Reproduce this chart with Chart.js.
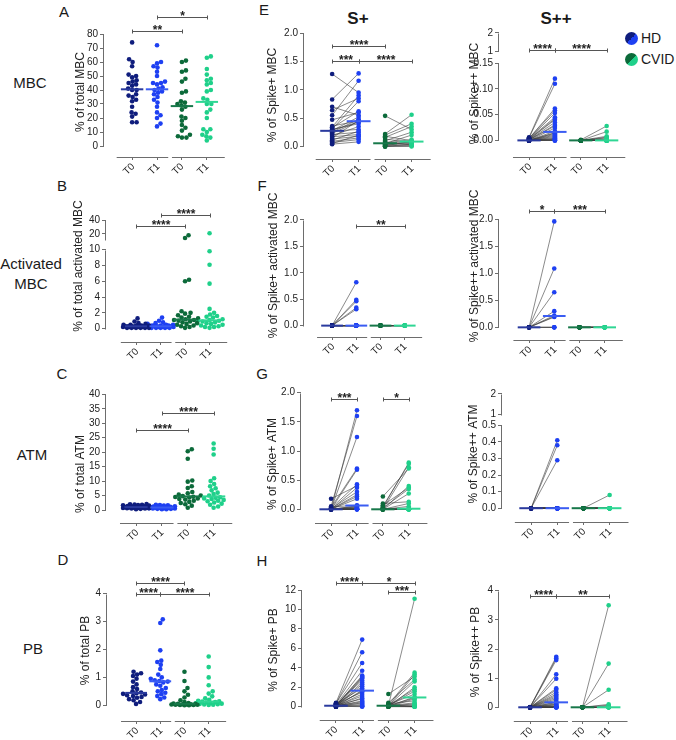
<!DOCTYPE html>
<html>
<head>
<meta charset="utf-8">
<title>Spike-specific B cell subsets</title>
<script src="https://cdn.jsdelivr.net/npm/chart.js@4.4.1/dist/chart.umd.min.js"></script>
<style>
  html, body { margin: 0; padding: 0; background: #fff; }
  #fig { position: relative; width: 676px; height: 740px; overflow: hidden; font-family: "Liberation Sans", Arial, sans-serif; color: #1a1a1a; }
  #fig canvas { position: absolute; }
  .t { position: absolute; transform: translate(-50%, -50%); white-space: nowrap; line-height: 1; }
  .letter { font-size: 15px; }
  .row { font-size: 15px; text-align: center; line-height: 20px; }
  .head { font-size: 17px; font-weight: bold; }
  .leg { position: absolute; left: 625px; height: 14px; font-size: 14px; line-height: 14px; display: flex; align-items: center; }
  .leg i { display: inline-block; width: 13px; height: 13px; border-radius: 50%; margin-right: 3px; }
  .xt { position: absolute; font-size: 10px; line-height: 10px; color: #222; white-space: nowrap;
        transform-origin: 50% 50%; transform: translate(-50%, -50%) rotate(-45deg); }
</style>
</head>
<body>
<div id="fig">
  <div class="t letter" style="left:64px;top:11px">A</div>
  <div class="t letter" style="left:62px;top:185px">B</div>
  <div class="t letter" style="left:62px;top:373px">C</div>
  <div class="t letter" style="left:63px;top:559px">D</div>
  <div class="t letter" style="left:264px;top:9px">E</div>
  <div class="t letter" style="left:262px;top:185px">F</div>
  <div class="t letter" style="left:262px;top:373px">G</div>
  <div class="t letter" style="left:262px;top:560px">H</div>

  <div class="t row" style="left:30px;top:83px">MBC</div>
  <div class="t row" style="left:31px;top:274px">Activated<br>MBC</div>
  <div class="t row" style="left:32px;top:455px">ATM</div>
  <div class="t row" style="left:33px;top:649px">PB</div>

  <div class="t head" style="left:358px;top:18px">S+</div>
  <div class="t head" style="left:556px;top:18px">S++</div>

  <div class="leg" style="top:31px"><i style="background:linear-gradient(135deg,#0f1d7d 50%,#1e40f2 50%)"></i>HD</div>
  <div class="leg" style="top:52px"><i style="background:linear-gradient(135deg,#0c6a3a 50%,#1fd08a 50%)"></i>CVID</div>
</div>

<script>
// ---- data ----
const TIME_LABELS = ['T0', 'T1', 'T0', 'T1'];
const GROUP_NAMES = ['HD T0', 'HD T1', 'CVID T0', 'CVID T1'];

// A - % of total MBC
const mbcHdT0 = [74, 62, 60, 57, 51, 50, 49, 47, 46, 45, 44, 43, 41, 40, 40, 37, 36, 35, 33, 32, 28, 24, 23, 21, 17, 17];
const mbcHdT1 = [72, 60, 59, 57, 56, 53, 50, 46, 45, 45, 44, 42, 41, 40, 39, 38, 37, 35, 33, 31, 28, 24, 22, 20, 16, 14];
const mbcCvT0 = [61, 60, 54, 53, 48, 46, 39, 38, 32, 31, 30, 29, 28, 26, 21, 20, 18, 15, 13, 11, 8, 7, 6, 6];
const mbcCvT1 = [64, 63, 55, 51, 48, 47, 45, 44, 40, 39, 34, 33, 30, 30, 26, 24, 20, 12, 12, 10, 8, 7, 6, 4];

// B - % of total activated MBC
const actHdT0 = [1.3, 0.9, 0.7, 0.6, 0.5, 0.5, 0.4, 0.4, 0.4, 0.3, 0.3, 0.3, 0.3, 0.3, 0.3, 0.2, 0.2, 0.2, 0.2, 0.2, 0.1, 0.1, 0.1, 0.1, 0.1, 0.1];
const actHdT1 = [1.4, 1.0, 0.8, 0.7, 0.6, 0.5, 0.5, 0.4, 0.4, 0.4, 0.3, 0.3, 0.3, 0.3, 0.3, 0.2, 0.2, 0.2, 0.2, 0.2, 0.1, 0.1, 0.1, 0.1, 0.1];
const actCvT0 = [18, 14, 6.2, 6.0, 2.2, 2.0, 1.9, 1.7, 1.5, 1.4, 1.3, 1.2, 1.1, 1.1, 1.0, 0.9, 0.8, 0.7, 0.6, 0.5, 0.4, 0.3, 0.2, 0.1];
const actCvT1 = [21, 9.8, 8.1, 5.7, 2.5, 2.0, 1.8, 1.6, 1.5, 1.4, 1.2, 1.1, 1.0, 1.0, 0.9, 0.8, 0.7, 0.6, 0.5, 0.4, 0.3, 0.2, 0.2, 0.1];

// C - % of total ATM
const atmHdT0 = [2.1, 2.0, 1.9, 1.8, 1.7, 1.6, 1.5, 1.4, 1.3, 1.2, 1.1, 1.0, 1.0, 0.9, 0.9, 0.8, 0.8, 0.7, 0.7, 0.6, 0.6, 0.5, 0.5, 0.4, 0.3];
const atmHdT1 = [1.8, 1.7, 1.6, 1.5, 1.4, 1.3, 1.2, 1.1, 1.0, 1.0, 0.9, 0.9, 0.8, 0.8, 0.7, 0.7, 0.6, 0.6, 0.5, 0.5, 0.4, 0.4, 0.3, 0.3];
const atmCvT0 = [21, 20.3, 17.7, 10.2, 9.8, 8.2, 7.6, 6.2, 5.8, 5.3, 5.0, 4.8, 4.6, 4.5, 4.3, 4.0, 3.8, 3.6, 3.2, 2.8, 2.4, 2.0, 1.5, 0.8];
const atmCvT1 = [23, 21.2, 19.2, 11, 10, 9, 8.2, 7.5, 6.8, 6, 5.5, 5, 4.4, 4.2, 4.0, 3.8, 3.5, 3.2, 3.0, 2.6, 2.2, 1.8, 1.2, 0.8];

// D - % of total PB
const pbHdT0 = [1.2, 1.15, 1.1, 1.05, 0.95, 0.85, 0.75, 0.65, 0.58, 0.5, 0.46, 0.43, 0.41, 0.39, 0.36, 0.33, 0.3, 0.27, 0.22, 0.18, 0.12, 0.05];
const pbHdT1 = [3.08, 2.95, 1.97, 1.6, 1.55, 1.45, 1.3, 1.1, 1.0, 0.95, 0.9, 0.87, 0.85, 0.82, 0.75, 0.7, 0.62, 0.55, 0.5, 0.45, 0.4, 0.33, 0.28, 0.22];
const pbCvT0 = [1.2, 0.87, 0.62, 0.5, 0.38, 0.28, 0.18, 0.12, 0.08, 0.06, 0.05, 0.05, 0.04, 0.04, 0.03, 0.03, 0.02, 0.02, 0.01, 0.01, 0, 0];
const pbCvT1 = [1.75, 1.37, 1.0, 0.72, 0.5, 0.42, 0.32, 0.25, 0.2, 0.16, 0.14, 0.13, 0.12, 0.1, 0.08, 0.07, 0.06, 0.05, 0.04, 0.03, 0.02, 0.01];

// E - Spike+ / Spike++ MBC (paired T0 -> T1)
const sMbcHdT0 = [1.28, 0.83, 0.70, 0.64, 0.55, 0.47, 0.36, 0.34, 0.33, 0.31, 0.30, 0.29, 0.28, 0.27, 0.25, 0.23, 0.21, 0.19, 0.17, 0.15, 0.13, 0.11, 0.09, 0.07, 0.05, 0.04];
const sMbcHdT1 = [0.95, 1.29, 0.55, 0.85, 1.16, 0.60, 0.45, 0.90, 0.62, 0.80, 0.40, 0.43, 0.52, 0.30, 0.48, 0.44, 0.25, 0.35, 0.21, 0.46, 0.18, 0.27, 0.15, 0.12, 0.20, 0.08];
const sMbcCvT0 = [0.54, 0.22, 0.20, 0.18, 0.16, 0.13, 0.10, 0.08, 0.06, 0.05, 0.05, 0.04, 0.03, 0.02, 0.01, 0, 0, 0];
const sMbcCvT1 = [0.30, 0.56, 0.40, 0.10, 0.35, 0.07, 0.25, 0.05, 0.12, 0.03, 0.20, 0.06, 0.08, 0.02, 0.09, 0.01, 0, 0.04];

const ssMbcHdT0 = [0.006, 0.005, 0.004, 0.004, 0.003, 0.003, 0.002, 0.002, 0.001, 0.001, 0.001, 0, 0, 0, 0, 0, 0, 0, 0, 0, 0, 0, 0, 0, 0, 0];
const ssMbcHdT1 = [0.120, 0.110, 0.062, 0.058, 0.053, 0.045, 0.042, 0.040, 0.035, 0.030, 0.028, 0.024, 0.018, 0.015, 0.014, 0.012, 0.010, 0.008, 0.006, 0.004, 0.003, 0.002, 0.001, 0, 0, 0];
const ssMbcCvT0 = [0.001, 0, 0, 0, 0, 0, 0, 0, 0, 0, 0, 0, 0, 0, 0, 0, 0, 0];
const ssMbcCvT1 = [0.028, 0.017, 0.008, 0.006, 0.005, 0.003, 0, 0, 0, 0, 0, 0, 0, 0, 0, 0, 0, 0];

// F - Spike+ / Spike++ activated MBC
const saHdT0 = [0, 0, 0, 0, 0, 0, 0, 0, 0, 0, 0, 0, 0, 0, 0, 0, 0, 0, 0, 0];
const saHdT1 = [0.82, 0.49, 0.46, 0.34, 0.31, 0, 0, 0, 0, 0, 0, 0, 0, 0, 0, 0, 0, 0, 0, 0];
const saCvT0 = [0, 0, 0, 0, 0, 0, 0, 0, 0, 0, 0, 0];
const saCvT1 = [0, 0, 0, 0, 0, 0, 0, 0, 0, 0, 0, 0];

const ssaHdT0 = [0, 0, 0, 0, 0, 0, 0, 0, 0, 0];
const ssaHdT1 = [1.96, 1.09, 0.65, 0.30, 0.22, 0.20, 0.19, 0, 0, 0];
const ssaCvT0 = [0, 0, 0, 0, 0, 0, 0, 0, 0, 0];
const ssaCvT1 = [0, 0, 0, 0, 0, 0, 0, 0, 0, 0];

// G - Spike+ / Spike++ ATM
const sAtmHdT0 = [0, 0.05, 0, 0.03, 0, 0.02, 0.18, 0, 0.01, 0, 0, 0, 0.04, 0, 0, 0, 0, 0, 0, 0, 0, 0, 0, 0, 0, 0];
const sAtmHdT1 = [1.70, 1.60, 1.24, 0.70, 0.68, 0.43, 0.40, 0.37, 0.30, 0.25, 0.22, 0.18, 0.07, 0.06, 0.05, 0.04, 0.03, 0.02, 0.01, 0.01, 0, 0, 0, 0, 0, 0];
const sAtmCvT0 = [0.03, 0.05, 0, 0.22, 0, 0.07, 0.02, 0, 0.10, 0, 0, 0, 0, 0, 0, 0, 0, 0, 0, 0, 0, 0, 0, 0];
const sAtmCvT1 = [0.80, 0.78, 0.72, 0.70, 0.40, 0.37, 0.35, 0.27, 0.13, 0.10, 0.05, 0.02, 0, 0, 0, 0, 0, 0, 0, 0, 0, 0, 0, 0];

const ssAtmHdT0 = [0, 0, 0, 0, 0, 0, 0, 0, 0, 0, 0, 0, 0, 0, 0, 0, 0, 0, 0, 0];
const ssAtmHdT1 = [0.41, 0.38, 0.29, 0, 0, 0, 0, 0, 0, 0, 0, 0, 0, 0, 0, 0, 0, 0, 0, 0];
const ssAtmCvT0 = [0, 0, 0, 0, 0, 0, 0, 0, 0, 0, 0, 0, 0, 0, 0];
const ssAtmCvT1 = [0.08, 0, 0, 0, 0, 0, 0, 0, 0, 0, 0, 0, 0, 0, 0];

// H - Spike+ / Spike++ PB
const sPbHdT0 = [0.40, 0.30, 0.35, 0.20, 0.10, 0.15, 0.05, 0.10, 0.20, 0, 0.10, 0.05, 0.30, 0, 0.10, 0.25, 0.05, 0.10, 0, 0.15, 0.05, 0.10, 0, 0.20, 0.05, 0.10, 0, 0.05];
const sPbHdT1 = [6.9, 5.6, 4.5, 3.7, 3.2, 3.1, 3.0, 2.9, 2.7, 2.5, 2.3, 2.1, 1.9, 1.7, 1.6, 1.5, 1.3, 1.1, 0.9, 0.8, 0.6, 0.5, 0.4, 0.3, 0.2, 0.1, 0.05, 0];
const sPbCvT0 = [0.10, 0.20, 0.05, 1.30, 0.40, 0.10, 0, 0.15, 0.10, 0.20, 0.05, 0.10, 0, 0.30, 0.10, 0.05, 0.10, 0, 0.20, 0.10, 0, 0.05];
const sPbCvT1 = [11.1, 3.5, 3.3, 3.1, 2.8, 2.6, 2.0, 1.8, 1.6, 1.3, 1.0, 0.9, 0.8, 0.6, 0.4, 0.3, 0.2, 0.1, 0.05, 0, 0, 0];

const ssPbHdT0 = [0.01, 0, 0, 0, 0, 0, 0, 0, 0, 0, 0, 0, 0, 0, 0, 0, 0, 0, 0, 0, 0, 0, 0, 0, 0, 0, 0, 0];
const ssPbHdT1 = [1.73, 1.68, 1.62, 1.13, 0.98, 0.65, 0.60, 0.52, 0.45, 0.40, 0.35, 0.30, 0.25, 0.18, 0.16, 0.12, 0.10, 0.08, 0.05, 0.03, 0.02, 0, 0, 0, 0, 0, 0, 0];
const ssPbCvT0 = [0, 0, 0, 0, 0, 0, 0, 0, 0, 0, 0, 0];
const ssPbCvT1 = [3.5, 1.5, 0.6, 0.1, 0.07, 0, 0, 0, 0, 0, 0, 0];

// y ticks + labels
const ticksA = [0, 10, 20, 30, 40, 50, 60, 70, 80];
const labelsA = ['0', '10', '20', '30', '40', '50', '60', '70', '80'];
const ticksB = [0, 2, 4, 6, 8, 10, 20, 40];
const labelsB = ['0', '2', '4', '6', '8', '10', '20', '40'];
const ticksC = [0, 5, 10, 15, 20, 25, 30, 35, 40];
const labelsC = ['0', '5', '10', '15', '20', '25', '30', '35', '40'];
const ticks4 = [0, 1, 2, 3, 4];
const labels4 = ['0', '1', '2', '3', '4'];
const ticks2 = [0, 0.5, 1, 1.5, 2];
const labels2 = ['0.0', '0.5', '1.0', '1.5', '2.0'];
const ticksESS = [0, 0.05, 0.10, 0.15, 1, 2];
const labelsESS = ['0.00', '0.05', '0.10', '0.15', '1', '2'];
const ticksGSS = [0, 0.1, 0.2, 0.3, 0.4, 0.5, 1, 2];
const labelsGSS = ['0.0', '0.1', '0.2', '0.3', '0.4', '0.5', '1', '2'];
const ticksH = [0, 2, 4, 6, 8, 10, 12];
const labelsH = ['0', '2', '4', '6', '8', '10', '12'];

// significance brackets: [from group, to group, value, label]
const sigA = [[0, 2, 82, '**'], [1, 3, 92, '*']];
const sigB = [[0, 2, 31, '****'], [1, 3, 47, '****']];
const sigC = [[0, 2, 27.7, '****'], [1, 3, 33.7, '****']];
const sigD = [[0, 2, 4.38, '****'], [0, 1, 4.0, '****'], [1, 3, 4.0, '****']];
const sigES = [[0, 2, 1.77, '****'], [0, 1, 1.51, '***'], [1, 3, 1.51, '****']];
const sigESS = [[0, 1, 1.1, '****'], [1, 3, 1.1, '****']];
const sigFS = [[1, 3, 1.88, '**']];
const sigFSS = [[0, 1, 2.15, '*'], [1, 3, 2.15, '***']];
const sigGS = [[0, 1, 1.885, '***'], [2, 3, 1.885, '*']];
const sigGSS = [];
const sigHS = [[0, 1, 12.7, '****'], [1, 3, 12.7, '*'], [2, 3, 11.8, '***']];
const sigHSS = [[0, 1, 3.82, '****'], [1, 3, 3.82, '**']];

// ---- style ----
const COLORS = ['#0f1d7d', '#1e40f2', '#0c6a3a', '#1fd08a'];
const MEDIAN_COLORS = ['#2a3a9e', '#3a5cf2', '#17784a', '#2fd694'];
const AXIS = '#6d6d6d';
const INK = '#222';
const PAIR = 'rgba(60,60,60,0.75)';
const FONT = '"Liberation Sans", Arial, sans-serif';
const X_H = 30;
const X_SEGS = [[-0.62, 1.45], [1.6, 3.72]];

Chart.defaults.font.family = FONT;

function median(a) {
  const s = [...a].sort((p, q) => p - q);
  const n = s.length;
  return n % 2 ? s[(n - 1) / 2] : (s[n / 2 - 1] + s[n / 2]) / 2;
}

// broken axis: values above lowTop are squeezed into a short upper segment
function makeBreak(b) {
  if (!b) return v => v;
  return v => v <= b.lowTop ? v : b.highStart + (v - b.highBottom) * b.factor;
}

function decor(P, tf) {
  return {
    id: 'decor',
    beforeDatasetsDraw(chart) {
      const { ctx, chartArea: ca, scales: { x, y } } = chart;
      ctx.save();
      ctx.strokeStyle = AXIS;
      ctx.lineWidth = 1;
      const ax = Math.round(ca.left) - 0.5;
      P.segs.forEach(([a, b]) => {
        ctx.beginPath();
        ctx.moveTo(ax, Math.round(y.getPixelForValue(tf(a))) + 0.5);
        ctx.lineTo(ax, Math.round(y.getPixelForValue(tf(b))) + 0.5);
        ctx.stroke();
      });
      const by = Math.round(ca.bottom) + 0.5;
      X_SEGS.forEach(([a, b]) => {
        ctx.beginPath();
        ctx.moveTo(x.getPixelForValue(a), by);
        ctx.lineTo(x.getPixelForValue(b), by);
        ctx.stroke();
      });
      ctx.restore();
    },
    afterDraw(chart) {
      const { ctx, scales: { x, y } } = chart;
      ctx.save();
      ctx.strokeStyle = '#555';
      ctx.fillStyle = INK;
      ctx.lineWidth = 1;
      ctx.font = 'bold 12px ' + FONT;
      ctx.textAlign = 'center';
      ctx.textBaseline = 'alphabetic';
      P.sig.forEach(([a, b, v, txt]) => {
        const x1 = Math.round(x.getPixelForValue(a)) + 0.5;
        const x2 = Math.round(x.getPixelForValue(b)) + 0.5;
        const yy = Math.round(y.getPixelForValue(tf(v))) + 0.5;
        ctx.beginPath();
        ctx.moveTo(x1, yy); ctx.lineTo(x2, yy);
        ctx.moveTo(x1, yy - 2); ctx.lineTo(x1, yy + 2);
        ctx.moveTo(x2, yy - 2); ctx.lineTo(x2, yy + 2);
        ctx.stroke();
        ctx.fillText(txt, (x1 + x2) / 2, yy + 2.5);
      });
      ctx.restore();
    }
  };
}

// spread points of one group sideways so they do not sit on top of each other
function swarm(chart, di, cat, cap) {
  const xs = chart.scales.x, ys = chart.scales.y;
  const unit = xs.getPixelForValue(1) - xs.getPixelForValue(0);
  const pts = chart.data.datasets[di].data;
  const order = pts.map((p, i) => ({ i, py: ys.getPixelForValue(p.y) })).sort((a, b) => b.py - a.py);
  const D2 = 4.2 * 4.2;
  const cands = [0];
  for (let s = 0.5; s <= cap; s += 0.5) cands.push(s, -s);
  const placed = [];
  order.forEach(p => {
    let best = 0, bestGap = -1;
    for (const c of cands) {
      let gap = Infinity;
      for (const q of placed) {
        const dx = q.px - c, dy = q.py - p.py;
        gap = Math.min(gap, dx * dx + dy * dy);
      }
      if (gap >= D2) { best = c; break; }
      if (gap > bestGap) { bestGap = gap; best = c; }
    }
    placed.push({ px: best, py: p.py });
    pts[p.i].x = cat + best / unit;
  });
}

function buildPanel(P) {
  const L = P.layout;
  const tf = makeBreak(P.brk);
  const fig = document.getElementById('fig');
  const W = Math.round(L.titleD + 7.2);
  const axisX = Math.round(L.axisX);
  const left = axisX - W;
  const top = Math.round(L.topY);          // canvas top (room for brackets)
  const chartTop = Math.round(L.chartTop); // top of the plotting area
  const width = Math.round(L.rightX) - left;
  const bottom = Math.round(L.lineY);
  const height = bottom + X_H - top;

  const cv = document.createElement('canvas');
  cv.width = width;
  cv.height = height;
  cv.style.left = left + 'px';
  cv.style.top = top + 'px';
  fig.appendChild(cv);

  const [v0, p0, v1, p1] = L.cal;
  const t0 = tf(v0);
  const ppt = (p0 - p1) / (tf(v1) - t0);
  const yMax = t0 + (p0 - chartTop) / ppt;
  const yMin = t0 - (bottom - p0) / ppt;
  const xMin = (axisX - L.cat0X) / L.catStep;
  const xMax = xMin + (left + width - axisX) / L.catStep;

  const datasets = [];
  P.groups.forEach((arr, g) => {
    datasets.push({
      label: GROUP_NAMES[g],
      data: arr.map(v => ({ x: g, y: tf(v) })),
      backgroundColor: COLORS[g],
      pointRadius: 2.3,
      borderWidth: 0,
      order: 1
    });
  });
  if (P.paired) {
    [[0, 1], [2, 3]].forEach(([a, b]) => {
      const data = [];
      P.groups[a].forEach((v, i) => {
        data.push({ x: a, y: tf(v) }, { x: b, y: tf(P.groups[b][i]) }, { x: (a + b) / 2, y: null });
      });
      datasets.push({ data, showLine: true, spanGaps: false, borderColor: PAIR, borderWidth: 0.8, pointRadius: 0, order: 2 });
    });
  }
  P.groups.forEach((arr, g) => {
    const m = tf(median(arr));
    datasets.push({
      data: [{ x: g - 0.45, y: m }, { x: g + 0.45, y: m }],
      showLine: true, borderColor: MEDIAN_COLORS[g], borderWidth: 2, pointRadius: 0, order: 0
    });
  });

  const chart = new Chart(cv, {
    type: 'scatter',
    data: { datasets },
    options: {
      responsive: false,
      animation: false,
      devicePixelRatio: 1,
      events: [],
      layout: { padding: { top: chartTop - top, left: 0, right: 0, bottom: 0 } },
      plugins: { legend: { display: false }, tooltip: { enabled: false } },
      scales: {
        x: {
          type: 'linear', min: xMin, max: xMax,
          afterBuildTicks: s => { s.ticks = TIME_LABELS.map((_, i) => ({ value: i })); },
          afterFit: s => { s.height = X_H; s.paddingLeft = 0; s.paddingRight = 0; },
          ticks: { display: false },
          grid: { display: true, drawOnChartArea: false, drawTicks: true, tickLength: 3, color: AXIS },
          border: { display: false }
        },
        y: {
          type: 'linear', min: yMin, max: yMax,
          afterBuildTicks: s => { s.ticks = P.ticks.map(v => ({ value: tf(v) })); },
          afterFit: s => { s.width = W; s.paddingTop = 0; s.paddingBottom = 0; },
          ticks: { autoSkip: false, padding: 2, color: INK, font: { size: 10 }, callback: (v, i) => P.tickLabels[i] },
          grid: { display: true, drawOnChartArea: false, drawTicks: true, tickLength: 4, color: AXIS },
          border: { display: false },
          title: { display: true, text: P.title, color: INK, font: { size: 12 }, padding: 0 }
        }
      }
    },
    plugins: [decor(P, tf)]
  });

  if (!P.paired) {
    for (let g = 0; g < 4; g++) swarm(chart, g, g, 13);
    chart.update('none');
  }

  // slanted T0 / T1 labels, centred just below-left of each category tick
  TIME_LABELS.forEach((lab, i) => {
    const d = document.createElement('div');
    d.className = 'xt';
    d.textContent = lab;
    d.style.left = (left + chart.scales.x.getPixelForValue(i) - 3.5) + 'px';
    d.style.top = (top + chart.chartArea.bottom + 12) + 'px';
    fig.appendChild(d);
  });
}

const panels = [
  { title: '% of total MBC', groups: [mbcHdT0, mbcHdT1, mbcCvT0, mbcCvT1], ticks: ticksA, tickLabels: labelsA, segs: [[0, 80]], sig: sigA,
    layout: { axisX: 104, topY: 4, chartTop: 27, lineY: 157, rightX: 234, cat0X: 133, catStep: 25.7, cal: [0, 146, 80, 34], titleD: 24 } },
  { title: '% of total activated MBC', groups: [actHdT0, actHdT1, actCvT0, actCvT1], ticks: ticksB, tickLabels: labelsB, segs: [[0, 10], [10.5, 40]], sig: sigB,
    brk: { lowTop: 10, highBottom: 10, highStart: 11.13, factor: 0.087 },
    layout: { axisX: 106, topY: 186, chartTop: 186, lineY: 342, rightX: 234, cat0X: 137, catStep: 25.3, cal: [0, 328.3, 10, 247.3], titleD: 28 } },
  { title: '% of total ATM', groups: [atmHdT0, atmHdT1, atmCvT0, atmCvT1], ticks: ticksC, tickLabels: labelsC, segs: [[0, 40]], sig: sigC,
    layout: { axisX: 106, topY: 385, chartTop: 425, lineY: 523, rightX: 234, cat0X: 137, catStep: 26.7, cal: [0, 510, 40, 394.3], titleD: 26 } },
  { title: '% of total PB', groups: [pbHdT0, pbHdT1, pbCvT0, pbCvT1], ticks: ticks4, tickLabels: labels4, segs: [[0, 4]], sig: sigD,
    layout: { axisX: 107, topY: 570, chartTop: 580, lineY: 720.7, rightX: 234, cat0X: 137, catStep: 25, cal: [0, 705.3, 4, 593.7], titleD: 22 } },

  { title: '% of Spike+ MBC', paired: true, groups: [sMbcHdT0, sMbcHdT1, sMbcCvT0, sMbcCvT1], ticks: ticks2, tickLabels: labels2, segs: [[0, 2]], sig: sigES,
    layout: { axisX: 304, topY: 27, chartTop: 27, lineY: 159, rightX: 438, cat0X: 333, catStep: 27.3, cal: [0, 146, 2, 29.3], titleD: 32 } },
  { title: '% of Spike++ MBC', paired: true, groups: [ssMbcHdT0, ssMbcHdT1, ssMbcCvT0, ssMbcCvT1], ticks: ticksESS, tickLabels: labelsESS, segs: [[0, 0.15], [1, 2]], sig: sigESS,
    brk: { lowTop: 0.15, highBottom: 1, highStart: 0.173, factor: 0.036 },
    layout: { axisX: 499, topY: 26, chartTop: 27, lineY: 157, rightX: 628, cat0X: 530, catStep: 26.7, cal: [0, 140, 0.15, 61], titleD: 25 } },
  { title: '% of Spike+ activated MBC', paired: true, groups: [saHdT0, saHdT1, saCvT0, saCvT1], ticks: ticks2, tickLabels: labels2, segs: [[0, 2]], sig: sigFS,
    layout: { axisX: 304, topY: 190, chartTop: 190, lineY: 336.7, rightX: 430, cat0X: 333, catStep: 25, cal: [0, 325.3, 2, 216.7], titleD: 31 } },
  { title: '% of Spike++ activated MBC', paired: true, groups: [ssaHdT0, ssaHdT1, ssaCvT0, ssaCvT1], ticks: ticks2, tickLabels: labels2, segs: [[0, 2]], sig: sigFSS,
    layout: { axisX: 499, topY: 188, chartTop: 188, lineY: 340, rightX: 630, cat0X: 530, catStep: 26, cal: [0, 327, 2, 216], titleD: 25 } },
  { title: '% of Spike+ ATM', paired: true, groups: [sAtmHdT0, sAtmHdT1, sAtmCvT0, sAtmCvT1], ticks: ticks2, tickLabels: labels2, segs: [[0, 2]], sig: sigGS,
    layout: { axisX: 301, topY: 383, chartTop: 405, lineY: 522.7, rightX: 434, cat0X: 332, catStep: 26.7, cal: [0, 509.3, 2, 392.7], titleD: 29 } },
  { title: '% of Spike++ ATM', paired: true, groups: [ssAtmHdT0, ssAtmHdT1, ssAtmCvT0, ssAtmCvT1], ticks: ticksGSS, tickLabels: labelsGSS, segs: [[0, 0.5], [1, 2]], sig: sigGSS,
    brk: { lowTop: 0.5, highBottom: 1, highStart: 0.565, factor: 0.125 },
    layout: { axisX: 502, topY: 382, chartTop: 384, lineY: 521.7, rightX: 634, cat0X: 532, catStep: 27, cal: [0, 508, 0.5, 424], titleD: 29 } },
  { title: '% of Spike+ PB', paired: true, groups: [sPbHdT0, sPbHdT1, sPbCvT0, sPbCvT1], ticks: ticksH, tickLabels: labelsH, segs: [[0, 12]], sig: sigHS,
    layout: { axisX: 302, topY: 570, chartTop: 580, lineY: 720, rightX: 438, cat0X: 337, catStep: 27, cal: [0, 706.7, 12, 590], titleD: 29 } },
  { title: '% of Spike++ PB', paired: true, groups: [ssPbHdT0, ssPbHdT1, ssPbCvT0, ssPbCvT1], ticks: ticks4, tickLabels: labels4, segs: [[0, 4]], sig: sigHSS,
    layout: { axisX: 499, topY: 575, chartTop: 583, lineY: 720.7, rightX: 634, cat0X: 531, catStep: 27, cal: [0, 707.3, 4, 590.7], titleD: 24 } }
];

panels.forEach(buildPanel);
</script>
</body>
</html>
